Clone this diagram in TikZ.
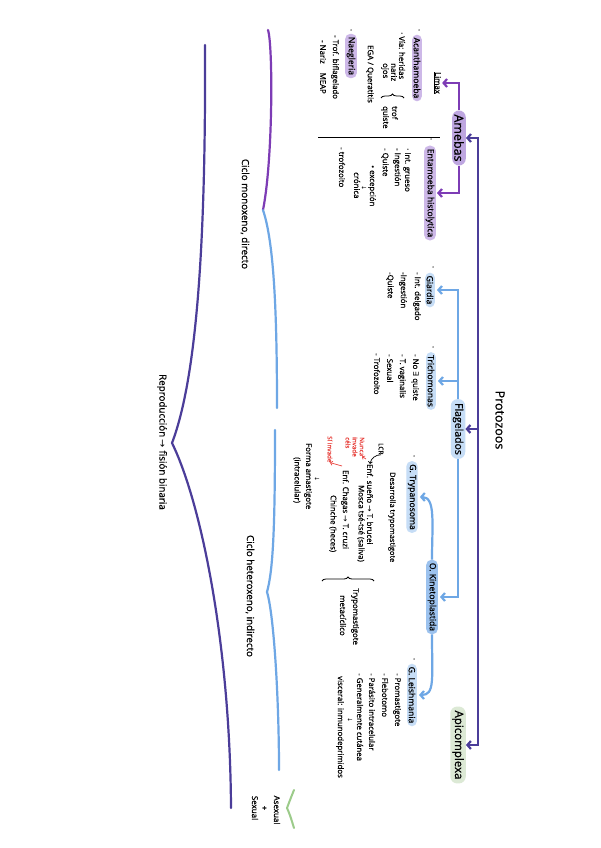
\documentclass[tikz,border=0pt]{standalone}
\usepackage{fontspec}
\setmainfont{Open Sans}[FakeBold=0.6]
\newfontfamily\symf{DejaVu Sans}
\usetikzlibrary{arrows.meta,decorations.pathreplacing}
\definecolor{indig}{HTML}{4B3D99}
\definecolor{purl}{HTML}{7D3CB5}
\definecolor{lav}{HTML}{CDB8E8}
\definecolor{lavd}{HTML}{BEA6E0}
\definecolor{blu}{HTML}{6EA7E5}
\definecolor{lblue}{HTML}{C6DDF6}
\definecolor{mblue}{HTML}{9CC2EE}
\definecolor{lgreen}{HTML}{DCE9D5}
\definecolor{gbrace}{HTML}{9CCB8A}
\definecolor{rednote}{HTML}{E8413C}
\newcommand\rar{{\symf →}}
\newcommand\dar{{\symf ↓}}
\begin{document}
\begin{tikzpicture}[x=1pt,y=-1pt,
  >={Straight Barb[length=3.5pt,width=8pt]},
  note/.style={rotate=-90,anchor=west,inner sep=0pt,font=\fontsize{7.8}{9}\selectfont},
  rnote/.style={note,text=rednote,font=\fontsize{6.3}{7}\selectfont},
  dotn/.style={rotate=-90,inner sep=0pt,font=\fontsize{8}{9}\selectfont},
  bigt/.style={rotate=-90,inner sep=0pt,font=\fontsize{9.8}{11}\selectfont},
  sbox/.style={rotate=-90,rounded corners=5pt,inner xsep=3pt,inner ysep=1.5pt,font=\fontsize{8.6}{10}\selectfont},
  abox/.style={sbox,fill=lav},
  fbox/.style={sbox,fill=lblue},
  lbox/.style={rotate=-90,rounded corners=7pt,inner xsep=4pt,inner ysep=2pt,font=\fontsize{12.5}{14}\selectfont},
  indl/.style={draw=indig,line width=2.2pt},
  purline/.style={draw=purl,line width=2.2pt},
  bluline/.style={draw=blu,line width=2.2pt},
  redarr/.style={draw=rednote,line width=0.7pt,-{Straight Barb[length=2pt,width=4pt]}},
  blkarr/.style={draw=black,line width=0.7pt,-{Straight Barb[length=2pt,width=4pt]}},
  bracedec/.style={draw=black,line width=0.8pt,decorate,decoration={brace,amplitude=4pt,mirror}}
]
\fill[white] (0,0) rectangle (600,848);
\useasboundingbox (0,0) rectangle (600,848);

% ---------- big braces ----------
\draw[indl,line cap=round] (205,45) .. controls (206,250) and (196,380) .. (172,443)
   .. controls (200,500) and (230,640) .. (231,808);
\draw[purline,line cap=round] (268,30) .. controls (273,45) and (273,160) .. (263,210);
\draw[bluline,line cap=round] (263,210) .. controls (273,240) and (277,300) .. (277,408);
\draw[bluline,line cap=round] (275,430) .. controls (275,530) and (273,570) .. (267,592)
   .. controls (274,615) and (279,700) .. (279,770);
\draw[draw=gbrace,line width=2pt,line cap=round] (294,790) .. controls (290,800) .. (287,808)
   .. controls (290,815) .. (294,828);

% ---------- main titles ----------
\node[bigt,font=\fontsize{12.5}{14}\selectfont] (proto) at (500,420) {Protozoos};
\node[bigt] (mono) at (245,214) {Ciclo monoxeno, directo};
\node[bigt] (hetero) at (250,596) {Ciclo heteroxeno, indirecto};
\node[bigt] (repro) at (162,442) {Reproducción \rar{} fisión binaria};
\node[bigt,font=\fontsize{8}{9}\selectfont] (asex) at (277,810) {Asexual};
\node[bigt,font=\fontsize{8}{9}\selectfont] (plus) at (264,808) {+};
\node[bigt,font=\fontsize{8}{9}\selectfont] (sex) at (255,808) {Sexual};

% ---------- big boxes ----------
\node[lbox,fill=lavd] (amebas) at (459,138) {Amebas};
\node[lbox,fill=lblue,font=\fontsize{10.5}{12}\selectfont] (flag) at (458,429) {Flagelados};
\node[lbox,fill=lgreen,font=\fontsize{11.5}{13}\selectfont] (apic) at (458,745) {Apicomplexa};

% ---------- main line ----------
\coordinate (mt) at (478,139);
\draw[indl,<->] (amebas.north) -| (apic.north -| mt) -- (apic.north);
\draw[indl,->] (flag.north -| mt) -- (flag.north);

% ---------- Amebas ----------
\node[note,anchor=center,font=\fontsize{7.8}{9}\selectfont] (limax) at (437,83) {\underline{Limax}};
\node[abox] (acan) at (417,68) {Acanthamoeba};
\node[dotn] (acandot) at (418,30) {·};
\node[abox] (naeg) at (351,56) {Naegleria};
\node[dotn] (naegdot) at (350,30) {·};
\node[abox] (entam) at (430,193) {Entamoeba histolytica};
\node[dotn] (entamdot) at (430,139) {·};
\draw[purline,->,shorten >=1pt] (amebas.west) |- (limax.north);
\draw[purline,->,shorten >=1pt] (amebas.east) |- (entam.north);

\coordinate (d1) at (318,137);
\coordinate (d2) at (440,137);
\draw[line width=0.8pt] (d1) -- (d2);

% Acanthamoeba notes
\node[note] (a1) at (402,32) {· Vía: heridas};
\node[note] (a2) at (394,63) {nariz};
\node[note] (a3) at (385,63) {ojos};
\node[note] (a4) at (395,106) {trof};
\node[note] (a5) at (385,106) {quiste};
\node[note] (a6) at (370,45) {EGA / Queratitis};
\coordinate (b1) at (404,98);
\coordinate (b2) at (381,98);
\draw[bracedec] (b1) -- (b2);

% Naegleria notes
\node[note] (n1) at (335,35) {- Trof. biflagelado};
\node[note] (n2) at (323,40) {- Nariz\hspace{9pt}MEAP};

% Entamoeba notes
\node[note] (e1) at (407,148) {· Int. grueso};
\node[note] (e2) at (397,148) {- Ingestión};
\node[note] (e3) at (385,148) {- Quiste};
\node[note] (e4) at (372,165) {• excepción};
\node[dotn,font=\fontsize{6}{7}\selectfont] (e5) at (364,188) {\dar};
\node[note] (e6) at (357,172) {crónica};
\node[note] (e7) at (342,147) {- trofozoito};

% ---------- Flagelados ----------
\node[fbox] (giardia) at (430,290) {Giardia};
\node[dotn] (giardot) at (432,267) {·};
\node[fbox] (trich) at (431,381) {Trichomonas};
\node[dotn] (trichdot) at (432,347) {·};
\node[sbox,fill=mblue] (kinet) at (432,597) {O. Kinetoplastida};
\node[fbox] (tryp) at (412,497) {G. Trypanosoma};
\node[dotn] (trypdot) at (413,456) {·};
\node[fbox] (leish) at (412,695) {G. Leishmania};
\node[dotn] (leishdot) at (413,659) {·};

\draw[bluline,->,shorten >=2pt] (flag.west) |- (giardia.north);
\draw[bluline,->,shorten >=2pt] (flag.west |- trich.north) -- (trich.north);
\draw[bluline,->,shorten >=2pt] (flag.east) |- (kinet.north);
\draw[bluline,->,shorten >=2pt] (kinet.west) .. controls +(0,-35) and +(18,0) .. (tryp.north);
\draw[bluline,->,shorten >=2pt] (kinet.east) .. controls +(0,45) and +(18,0) .. (leish.north);

% Giardia notes
\node[note] (g1) at (417,272) {- Int. delgado};
\node[note] (g2) at (403,272) {-Ingestión};
\node[note] (g3) at (390,272) {-Quiste};

% Trichomonas notes
\node[note] (t1) at (415,354) {- No {\symf ∃} quiste};
\node[note] (t2) at (402,354) {- T. vaginalis};
\node[note] (t3) at (390,354) {- Sexual};
\node[note] (t4) at (377,353) {- Trofozoito};

% Trypanosoma notes
\node[note,font=\fontsize{7.4}{8}\selectfont] (y1) at (392,472) {Desarrolla trypomastigote};
\node[note,font=\fontsize{6.5}{7}\selectfont] (lcr) at (381,443) {LCR};
\node[note] (sueno) at (370,464) {Enf. sueño \rar{} T. brucei};
\node[note] (mosca) at (361,485) {Mosca tsé-tsé (saliva)};
\node[note] (chagas) at (345,470) {Enf. Chagas \rar{} T. cruzi};
\node[note] (chinche) at (333,495) {Chinche (heces)};
\node[note] (trypo) at (355,588) {Trypomastigote};
\node[note] (metac) at (343,595) {metacíclico};
\node[rnote] (nunca) at (362,437) {Nunca};
\node[rnote] (invd) at (355,437) {invade};
\node[rnote] (cels) at (348,437) {céls};
\node[rnote] (siinv) at (330,436) {Sí invade};
\node[dotn,font=\fontsize{6}{7}\selectfont] (y2) at (317,479) {\dar};
\node[note] (amast) at (308,443) {Forma amastigote};
\node[note] (intrac) at (297,457) {(intracelular)};
\coordinate (b3) at (374,581);
\coordinate (b4) at (322,581);
\draw[bracedec] (b3) -- (b4);
\draw[blkarr] (lcr.east) to[bend right=40] (sueno.west);
\coordinate (r1) at (366,459);
\coordinate (r2) at (342,466);
\draw[redarr] (r1) -- (nunca.east);
\draw[redarr] (r2) -- (siinv.east);

% Leishmania notes
\node[note] (l1) at (397,673) {- Promastigote};
\node[note] (l2) at (385,673) {- Flebotomo};
\node[note] (l3) at (372,673) {- Parásito intracelular};
\node[note] (l4) at (360,673) {- Generalmente cutánea};
\node[dotn,font=\fontsize{6}{7}\selectfont] (l5) at (350,720) {\dar};
\node[note] (l6) at (340,676) {visceral: inmunodeprimidos};
\end{tikzpicture}
\end{document}
